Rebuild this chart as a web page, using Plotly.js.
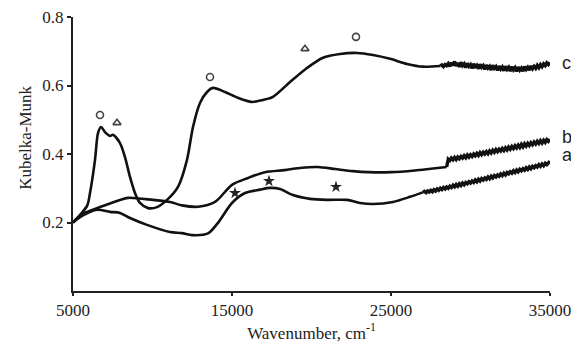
<!DOCTYPE html>
<html>
<head>
<meta charset="utf-8">
<script src="https://cdn.plot.ly/plotly-3.0.1.min.js"></script>
<style>html,body{margin:0;padding:0;background:#fff;}#chart{width:571px;height:344px;}</style>
</head>
<body>
<div id="chart"></div>
<script>
// Curve c (smooth part)
const cX = [5000,5500,5900,6069,6384,6572,6761,7013,7327,7516,7956,8270,8585,8899,9214,9717,10283,10912,11604,12170,12547,12987,13428,13805,14560,15377,16258,16950,17579,18648,19717,20723,21792,22862,23868,24937,26006,27013,28100];
const cY = [0.200,0.225,0.250,0.286,0.383,0.461,0.479,0.464,0.453,0.456,0.432,0.391,0.333,0.286,0.257,0.242,0.245,0.266,0.304,0.383,0.479,0.549,0.581,0.593,0.581,0.564,0.552,0.558,0.567,0.610,0.651,0.681,0.692,0.695,0.689,0.678,0.663,0.655,0.657];
// Curve c (noisy tail)
const cNoiseX = [28100,28200,28300,28400,28500,28600,28700,28800,28900,29000,29100,29200,29300,29400,29500,29600,29700,29800,29900,30000,30100,30200,30300,30400,30500,30600,30700,30800,30900,31000,31100,31200,31300,31400,31500,31600,31700,31800,31900,32000,32100,32200,32300,32400,32500,32600,32700,32800,32900,33000,33100,33200,33300,33400,33500,33600,33700,33800,33900,34000,34100,34200,34300,34400,34500,34600,34700,34800,34900,35000];
const cNoiseY = [0.657,0.660,0.655,0.661,0.658,0.664,0.656,0.667,0.659,0.670,0.657,0.666,0.654,0.668,0.658,0.663,0.652,0.665,0.656,0.661,0.650,0.663,0.655,0.659,0.649,0.662,0.653,0.658,0.647,0.660,0.651,0.656,0.645,0.659,0.650,0.655,0.644,0.657,0.648,0.654,0.643,0.656,0.647,0.653,0.642,0.655,0.646,0.652,0.641,0.654,0.645,0.651,0.642,0.655,0.647,0.653,0.645,0.657,0.649,0.656,0.650,0.659,0.652,0.661,0.655,0.663,0.658,0.666,0.661,0.667];

// Curve b
const bX = [5000,5600,6698,7956,8459,10031,11100,11855,12861,13931,14999,16006,17075,18300,19400,20400,21500,22600,23600,25000,26500,27500,28500];
const bY = [0.200,0.225,0.245,0.266,0.272,0.266,0.260,0.250,0.246,0.260,0.310,0.330,0.347,0.353,0.360,0.362,0.356,0.350,0.347,0.347,0.352,0.357,0.362];
const bNoiseX = [28500,28600,28700,28800,28900,29000,29100,29200,29300,29400,29500,29600,29700,29800,29900,30000,30100,30200,30300,30400,30500,30600,30700,30800,30900,31000,31100,31200,31300,31400,31500,31600,31700,31800,31900,32000,32100,32200,32300,32400,32500,32600,32700,32800,32900,33000,33100,33200,33300,33400,33500,33600,33700,33800,33900,34000,34100,34200,34300,34400,34500,34600,34700,34800,34900,35000];
const bNoiseY = [0.362,0.385,0.381,0.388,0.383,0.390,0.384,0.391,0.386,0.393,0.388,0.395,0.389,0.397,0.391,0.398,0.393,0.400,0.395,0.402,0.396,0.404,0.398,0.405,0.400,0.407,0.401,0.409,0.403,0.411,0.405,0.413,0.407,0.414,0.409,0.416,0.410,0.418,0.412,0.420,0.414,0.422,0.416,0.424,0.418,0.426,0.419,0.428,0.421,0.430,0.423,0.431,0.425,0.433,0.427,0.435,0.429,0.437,0.431,0.439,0.432,0.440,0.434,0.442,0.437,0.443];

// Curve a
const aX = [5000,5600,6509,7327,7956,8585,9654,11100,11855,12484,13490,14119,14999,15817,16761,17390,18019,18836,19905,20975,22233,23050,23868,25126,26200,27000];
const aY = [0.200,0.220,0.237,0.231,0.228,0.213,0.193,0.172,0.169,0.163,0.168,0.199,0.257,0.286,0.296,0.301,0.298,0.280,0.269,0.266,0.266,0.257,0.254,0.260,0.275,0.288];
const aNoiseX = [27000,27100,27200,27300,27400,27500,27600,27700,27800,27900,28000,28100,28200,28300,28400,28500,28600,28700,28800,28900,29000,29100,29200,29300,29400,29500,29600,29700,29800,29900,30000,30100,30200,30300,30400,30500,30600,30700,30800,30900,31000,31100,31200,31300,31400,31500,31600,31700,31800,31900,32000,32100,32200,32300,32400,32500,32600,32700,32800,32900,33000,33100,33200,33300,33400,33500,33600,33700,33800,33900,34000,34100,34200,34300,34400,34500,34600,34700,34800,34900,35000];
const aNoiseY = [0.288,0.291,0.287,0.292,0.289,0.294,0.290,0.296,0.292,0.298,0.294,0.300,0.296,0.302,0.298,0.304,0.300,0.306,0.302,0.309,0.304,0.311,0.306,0.313,0.308,0.315,0.310,0.317,0.313,0.319,0.315,0.321,0.317,0.324,0.319,0.326,0.321,0.328,0.324,0.330,0.326,0.333,0.328,0.335,0.330,0.337,0.333,0.339,0.335,0.342,0.337,0.344,0.339,0.346,0.342,0.348,0.344,0.351,0.346,0.353,0.348,0.355,0.351,0.357,0.353,0.360,0.355,0.362,0.357,0.364,0.360,0.366,0.362,0.369,0.364,0.371,0.366,0.373,0.369,0.376,0.379];

// Band markers
const circleX = [6698,13616,22798];
const circleY = [0.514,0.625,0.742];
const triangleX = [7767,19590];
const triangleY = [0.491,0.707];
const starX = [15188,17326,21540];
const starY = [0.286,0.321,0.304];

// Labels
const curveLabels = ['c','b','a'];
const curveLabelY = [0.667,0.449,0.398];

const xTicks = [5000,15000,25000,35000];
const yTicks = [0.2,0.4,0.6,0.8];

const lineStyle = {color:'#111', width:2.6};
const noiseStyle = {color:'#111', width:3.4};
const traces = [
  {x:cX, y:cY, mode:'lines', line:Object.assign({shape:'spline', smoothing:0.8}, lineStyle)},
  {x:cNoiseX, y:cNoiseY, mode:'lines', line:noiseStyle},
  {x:bX, y:bY, mode:'lines', line:Object.assign({shape:'spline', smoothing:0.8}, lineStyle)},
  {x:bNoiseX, y:bNoiseY, mode:'lines', line:noiseStyle},
  {x:aX, y:aY, mode:'lines', line:Object.assign({shape:'spline', smoothing:0.8}, lineStyle)},
  {x:aNoiseX, y:aNoiseY, mode:'lines', line:noiseStyle},
  {x:circleX, y:circleY, mode:'markers', marker:{symbol:'circle-open', size:7, color:'#444', line:{width:1.6, color:'#444'}}},
  {x:triangleX, y:triangleY, mode:'markers', marker:{symbol:'triangle-up-open', size:7, color:'#444', line:{width:1.6, color:'#444'}}},
  {x:starX, y:starY, mode:'markers', marker:{symbol:'star', size:9, color:'#222'}}
];

const annotations = curveLabels.map((t,i)=>({
  text:t, xref:'paper', yref:'y', x:1.02, y:curveLabelY[i], xanchor:'left', yanchor:'middle',
  showarrow:false, font:{family:'Liberation Sans, Arial', size:18, color:'#222'}
}));
annotations.push({
  text:'Kubelka-Munk', xref:'paper', yref:'paper', x:-0.1, y:0.56, textangle:-90,
  xanchor:'center', yanchor:'middle', showarrow:false,
  font:{family:'Liberation Serif, Times New Roman', size:17, color:'#222'}
});

const layout = {
  width:571, height:344,
  margin:{l:73, r:21, t:17, b:53},
  paper_bgcolor:'#fff', plot_bgcolor:'#fff',
  showlegend:false,
  xaxis:{
    range:[5000,35000], tickvals:xTicks, ticktext:xTicks.map(String),
    ticklabeloverflow:'allow',
    showgrid:false, zeroline:false, showline:true, linecolor:'#222', linewidth:2,
    ticks:'outside', ticklen:3, tickwidth:2, tickcolor:'#222',
    tickfont:{family:'Liberation Serif, Times New Roman', size:17, color:'#222'},
    title:{text:'Wavenumber, cm<sup>-1</sup>', standoff:6, font:{family:'Liberation Serif, Times New Roman', size:17, color:'#222'}}
  },
  yaxis:{
    range:[0,0.8], tickvals:yTicks, ticktext:yTicks.map(v=>v.toFixed(1)),
    showgrid:false, zeroline:false, showline:true, linecolor:'#222', linewidth:2,
    ticks:'outside', ticklen:4, tickwidth:2, tickcolor:'#222',
    tickfont:{family:'Liberation Serif, Times New Roman', size:17, color:'#222'}
  },
  annotations:annotations
};

Plotly.newPlot('chart', traces, layout, {staticPlot:true, displayModeBar:false});
</script>
</body>
</html>
